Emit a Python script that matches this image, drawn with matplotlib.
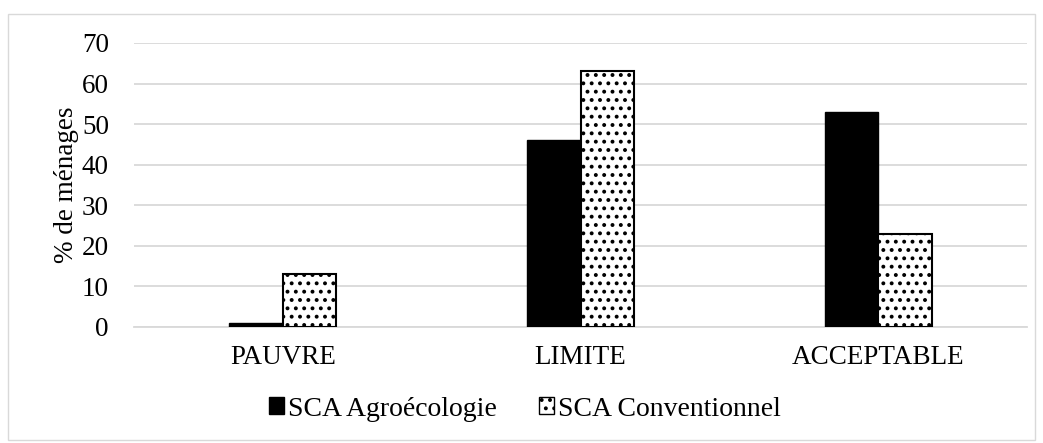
import matplotlib
matplotlib.use("Agg")
import matplotlib.pyplot as plt
import numpy as np
from matplotlib.patches import Rectangle, Patch

categories = ["PAUVRE", "LIMITE", "ACCEPTABLE"]
agro = [1, 46, 53]
conv = [13, 63, 23]
series_names = ["SCA Agroécologie", "SCA Conventionnel"]
yticks = [0, 10, 20, 30, 40, 50, 60, 70]

plt.rcParams['font.family'] = ['Liberation Serif', 'DejaVu Serif']
plt.rcParams['hatch.linewidth'] = 1.6

FS = 19.5
W, H = 1043, 443
fig = plt.figure(figsize=(W/100, H/100), dpi=100)
fig.add_artist(Rectangle((8/W, 1-440/H), (1035-8)/W, (440-14)/H, transform=fig.transFigure,
                         fill=False, edgecolor='#d9d9d9', linewidth=1.0))

ax = fig.add_axes([134/W, 1-327/H, (1027-134)/W, (327-43)/H])
x = np.arange(len(categories))
bw = 0.18
ax.bar(x - bw/2, agro, bw, color='black', edgecolor='black', linewidth=1.0, zorder=3)
ax.bar(x + bw/2, conv, bw, color='white', edgecolor='black', linewidth=1.5, hatch='..', zorder=3)

ax.set_xlim(-0.5, 2.5)
ax.set_ylim(0, 70)
ax.set_yticks(yticks)
ax.set_xticks(x)
ax.set_xticklabels(categories)
ax.tick_params(axis='both', length=0, labelsize=FS, colors='black')
ax.tick_params(axis='x', pad=13)
ax.tick_params(axis='y', pad=18)
ax.grid(axis='y', color='#d9d9d9', linewidth=1.3, zorder=0)
for s in ['top', 'right', 'left']:
    ax.spines[s].set_visible(False)
ax.spines['bottom'].set_color('#d9d9d9')
ax.spines['bottom'].set_linewidth(1.3)
ax.set_ylabel("% de ménages", fontsize=FS, labelpad=2)

handles = [Patch(facecolor='black', edgecolor='black'),
           Patch(facecolor='white', edgecolor='black', hatch='..')]
fig.legend(handles, series_names, loc='center', bbox_to_anchor=(525/W, 1-409/H),
           ncol=2, frameon=False, fontsize=20, handlelength=0.54, handleheight=0.54,
           handletextpad=0.15, columnspacing=1.5)

fig.savefig("out.png", dpi=100)
